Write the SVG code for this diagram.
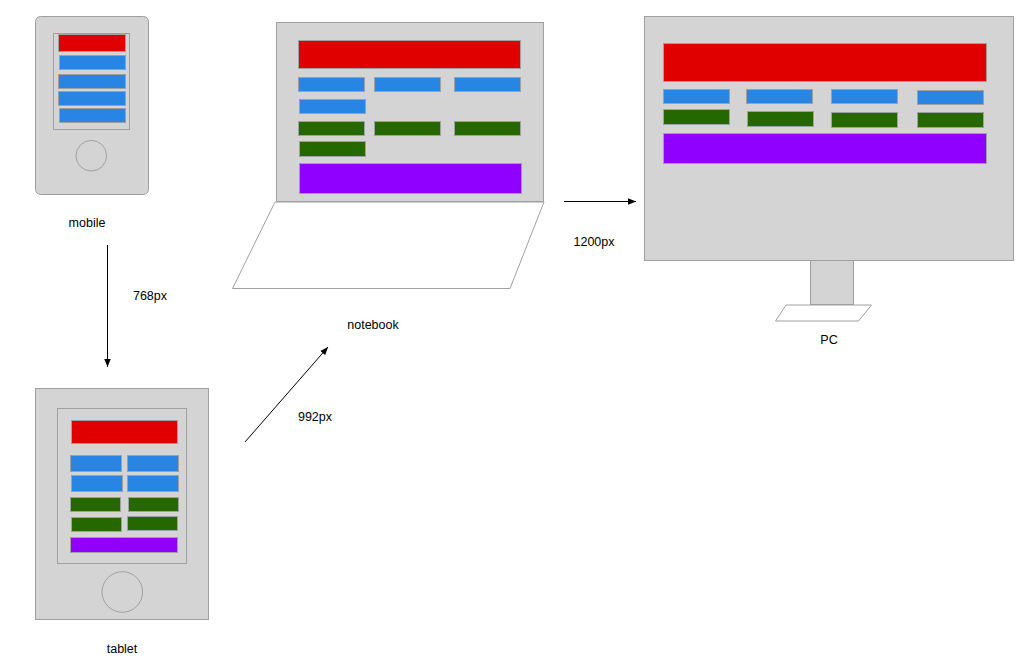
<svg xmlns="http://www.w3.org/2000/svg" width="1024" height="666" viewBox="0 0 1024 666">
<style>
.body{fill:#d4d4d4;stroke:#a0a0a0;stroke-width:1}
.white{fill:#ffffff;stroke:#a0a0a0;stroke-width:1}
.r{fill:#e00000;stroke:#a0a0a0;stroke-width:1}
.b{fill:#2985e3;stroke:#a0a0a0;stroke-width:1}
.g{fill:#266800;stroke:#a0a0a0;stroke-width:1}
.p{fill:#9000ff;stroke:#a0a0a0;stroke-width:1}
.lbl{font-family:"Liberation Sans",Arial,sans-serif;font-size:12.5px;fill:#000;text-anchor:middle}
.conn{stroke:#000;stroke-width:1;fill:none;marker-end:url(#arr)}
</style>
<defs>
<marker id="arr" viewBox="0 0 10 10" refX="10" refY="5" markerWidth="8" markerHeight="8" markerUnits="userSpaceOnUse" orient="auto">
<path d="M0,1 L10,5 L0,9 z" fill="#000"/>
</marker>
</defs>
<rect width="1024" height="666" fill="#fff"/>

<g id="mobile">
<rect class="body" x="35.5" y="16.5" width="113" height="178" rx="5"/>
<rect class="body" x="53.5" y="33.5" width="76" height="96"/>
<rect class="r" x="58.5" y="34.5" width="67" height="17"/>
<rect class="b" x="59.5" y="55.5" width="66" height="14"/>
<rect class="b" x="58.5" y="74.5" width="67" height="14"/>
<rect class="b" x="58.5" y="91.5" width="67" height="14"/>
<rect class="b" x="59.5" y="108.5" width="66" height="14"/>
<circle class="body" cx="91.3" cy="155.7" r="15.3"/>
<text class="lbl" x="87" y="227">mobile</text>
</g>

<g id="tablet">
<rect class="body" x="35.5" y="388.5" width="173" height="231"/>
<rect class="body" x="57.5" y="408.5" width="129" height="155"/>
<rect class="r" x="71.5" y="420.5" width="106" height="23"/>
<rect class="b" x="70.5" y="455.5" width="51" height="16"/>
<rect class="b" x="127.5" y="455.5" width="51" height="16"/>
<rect class="b" x="71.5" y="475.5" width="51" height="16"/>
<rect class="b" x="127.5" y="475.5" width="51" height="16"/>
<rect class="g" x="70.5" y="497.5" width="50" height="14"/>
<rect class="g" x="128.5" y="497.5" width="50" height="14"/>
<rect class="g" x="71.5" y="517.5" width="50" height="14"/>
<rect class="g" x="127.5" y="516.5" width="50" height="14"/>
<rect class="p" x="70.5" y="537.5" width="107" height="15"/>
<circle class="body" cx="122.3" cy="592" r="20.3"/>
<text class="lbl" x="122" y="653">tablet</text>
</g>

<g id="notebook">
<polygon class="white" points="275,202 544,202 510,288.5 232.5,288.5"/>
<rect class="body" x="276.5" y="22.5" width="267" height="179"/>
<rect class="r" x="298.5" y="40.5" width="222" height="28"/>
<rect class="b" x="298.5" y="77.5" width="66" height="14"/>
<rect class="b" x="374.5" y="77.5" width="66" height="14"/>
<rect class="b" x="454.5" y="77.5" width="66" height="14"/>
<rect class="b" x="299.5" y="99.5" width="66" height="14"/>
<rect class="g" x="298.5" y="121.5" width="66" height="14"/>
<rect class="g" x="374.5" y="121.5" width="66" height="14"/>
<rect class="g" x="454.5" y="121.5" width="66" height="14"/>
<rect class="g" x="299.5" y="141.5" width="66" height="15"/>
<rect class="p" x="299.5" y="163.5" width="222" height="30"/>
<text class="lbl" x="373" y="329">notebook</text>
</g>

<g id="pc">
<rect class="body" x="810.5" y="260.5" width="43" height="44"/>
<polygon class="white" points="786,305 871.5,305 858.5,321 775.5,321"/>
<rect class="body" x="644.5" y="16.5" width="369" height="244"/>
<rect class="r" x="663.5" y="43.5" width="323" height="38"/>
<rect class="b" x="663.5" y="89.5" width="66" height="14"/>
<rect class="b" x="746.5" y="89.5" width="66" height="14"/>
<rect class="b" x="831.5" y="89.5" width="66" height="14"/>
<rect class="b" x="917.5" y="90.5" width="66" height="14"/>
<rect class="g" x="663.5" y="109.5" width="66" height="15"/>
<rect class="g" x="747.5" y="111.5" width="66" height="15"/>
<rect class="g" x="831.5" y="112.5" width="66" height="15"/>
<rect class="g" x="917.5" y="112.5" width="66" height="15"/>
<rect class="p" x="663.5" y="133.5" width="323" height="30"/>
<text class="lbl" x="829" y="344">PC</text>
</g>

<g id="connectors">
<line class="conn" x1="107.5" y1="245" x2="107.5" y2="367"/>
<text class="lbl" x="150" y="300">768px</text>
<line class="conn" x1="245" y1="442" x2="328" y2="347"/>
<text class="lbl" x="315" y="421">992px</text>
<line class="conn" x1="564" y1="201.5" x2="636" y2="201.5"/>
<text class="lbl" x="594" y="246">1200px</text>
</g>
</svg>
